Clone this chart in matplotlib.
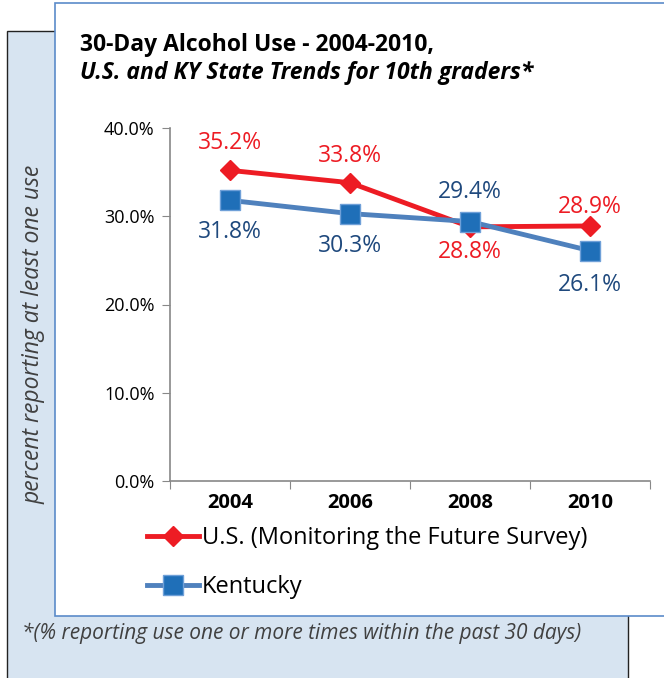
import matplotlib.pyplot as plt
from matplotlib.patches import Rectangle

years = ['2004', '2006', '2008', '2010']
us_values = [35.2, 33.8, 28.8, 28.9]
ky_values = [31.8, 30.3, 29.4, 26.1]
y_ticks = [0, 10, 20, 30, 40]

W, H = 664, 678
RED = '#ED1C24'
BLUE_LINE = '#4F81BD'
BLUE_MARK = '#1F6FB8'
BLUE_TEXT = '#1F497D'

plt.rcParams['font.family'] = ['Open Sans', 'DejaVu Sans']

fig = plt.figure(figsize=(W / 100, H / 100), dpi=100)


def px_rect(x0, y0, x1, y1, **kw):
    # rectangle given in image pixels (origin top-left)
    return Rectangle((x0 / W, 1 - y1 / H), (x1 - x0) / W, (y1 - y0) / H,
                     transform=fig.transFigure, **kw)


# background panels
fig.patches.append(px_rect(7, 31, 628, 690, facecolor='#D7E4F1', edgecolor='#222222', linewidth=1, zorder=-2))
fig.patches.append(px_rect(55, 3, 680, 616, facecolor='white', edgecolor='#5B8BC9', linewidth=1.2, zorder=-1))

ax = fig.add_axes([170 / W, 1 - 481 / H, (650 - 170) / W, (481 - 128) / H])
ax.set_facecolor('none')

x = list(range(len(years)))
ax.plot(x, us_values, color=RED, linewidth=3.5, marker='D', markersize=10,
        markerfacecolor=RED, markeredgecolor=RED, zorder=3, label='U.S. (Monitoring the Future Survey)')
ax.plot(x, ky_values, color=BLUE_LINE, linewidth=3.5, marker='s', markersize=14,
        markerfacecolor=BLUE_MARK, markeredgecolor='#6FA0D8', markeredgewidth=1, zorder=4, label='Kentucky')

# data labels (offsets in points)
us_offsets = [19.5, 19.5, -18, 14]
ky_offsets = [-22.5, -23, 21.5, -24.5]
for i, v in enumerate(us_values):
    ax.annotate(f'{v:.1f}%', (i, v), xytext=(0, us_offsets[i]), textcoords='offset points',
                ha='center', va='center', color=RED, fontsize=16.5)
for i, v in enumerate(ky_values):
    ax.annotate(f'{v:.1f}%', (i, v), xytext=(0, ky_offsets[i]), textcoords='offset points',
                ha='center', va='center', color=BLUE_TEXT, fontsize=16.5)

ax.set_xlim(-0.5, len(years) - 0.5)
ax.set_ylim(0, 40)
ax.set_yticks(y_ticks)
ax.set_yticklabels([f'{t:.1f}%' for t in y_ticks], fontsize=13)
ax.set_xticks([i - 0.5 for i in range(len(years) + 1)], minor=False)
ax.set_xticklabels([])
ax.set_xticks(x, minor=True)
ax.set_xticklabels(years, minor=True, fontsize=14.5, fontweight='bold')
ax.tick_params(axis='x', which='minor', length=0, pad=9)
ax.tick_params(axis='x', which='major', length=6, color='#888888')
ax.tick_params(axis='y', length=6, color='#888888', pad=5)

for s in ['top', 'right']:
    ax.spines[s].set_visible(False)
for s in ['left', 'bottom']:
    ax.spines[s].set_color('#888888')
    ax.spines[s].set_linewidth(1.2)

leg = ax.legend(loc='upper left', bbox_to_anchor=(138 / W, 1 - 517 / H), bbox_transform=fig.transFigure,
                frameon=False, fontsize=17, handlelength=2.2, handletextpad=0.1, labelspacing=1.05,
                borderaxespad=0)

fig.text(80 / W, 1 - 45 / H, '30-Day Alcohol Use - 2004-2010,', fontsize=16.5, fontweight='bold', va='center')
fig.text(80 / W, 1 - 73 / H, 'U.S. and KY State Trends for 10th graders*', fontsize=16.5,
         fontweight='bold', style='italic', va='center')
fig.text(34 / W, 1 - 334 / H, 'percent reporting at least one use', rotation=90, fontsize=16.5,
         style='italic', color='#404040', ha='center', va='center')
fig.text(22 / W, 1 - 633 / H, '*(% reporting use one or more times within the past 30 days)', fontsize=15,
         style='italic', color='#404040', va='center')

fig.savefig('out.png', dpi=100)
